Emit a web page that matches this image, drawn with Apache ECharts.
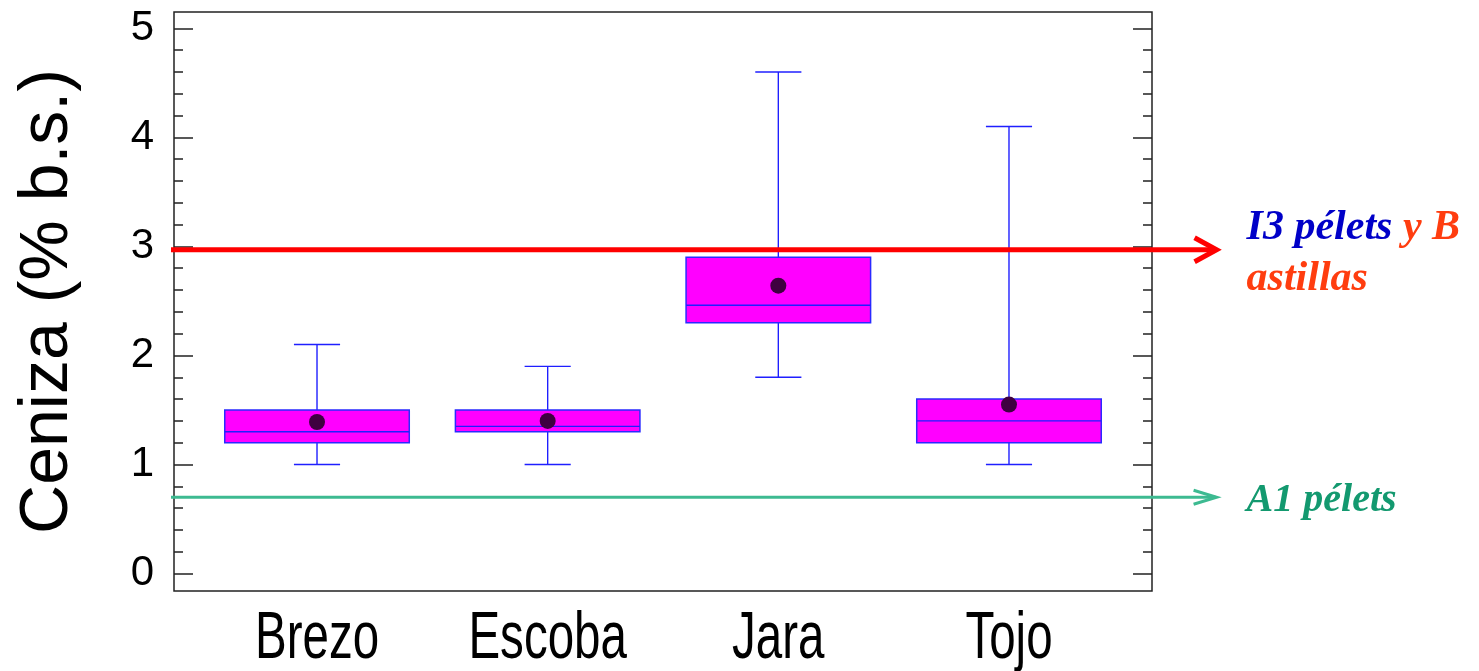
<!DOCTYPE html>
<html><head><meta charset="utf-8">
<script src="https://cdn.jsdelivr.net/npm/echarts@6/dist/echarts.min.js"></script>
<style>html,body{margin:0;padding:0;background:#fff}#c{width:1479px;height:671px}</style>
</head><body><div id="c"></div>
<script>
// ---- data ----
const categories = ['Brezo', 'Escoba', 'Jara', 'Tojo'];
const mins    = [1.0, 1.0, 1.8, 1.0];
const q1s     = [1.2, 1.3, 2.3, 1.2];
const medians = [1.3, 1.35, 2.46, 1.4];
const q3s     = [1.5, 1.5, 2.9, 1.6];
const maxs    = [2.1, 1.9, 4.6, 4.1];
const means   = [1.39, 1.40, 2.64, 1.55];
const yMajorTicks = [0, 1, 2, 3, 4, 5];
const yMinorTicks = [0.2, 0.4, 0.6, 0.8, 1.2, 1.4, 1.6, 1.8, 2.2, 2.4, 2.6, 2.8,
                     3.2, 3.4, 3.6, 3.8, 4.2, 4.4, 4.6, 4.8];
const limitValues = [2.97, 0.7];
const yTitle = 'Ceniza (% b.s.)';

// ---- styles / layout ----
const X_MIN = 0.38, X_MAX = 4.62, Y_MIN = -0.16, Y_MAX = 5.15;
const BOX_W = 0.8, CAP_W = 0.2, ARROW_END_X = 4.9;
const boxData = categories.map((c, i) => [i + 1, mins[i], q1s[i], medians[i], q3s[i], maxs[i]]);
const meanData = categories.map((c, i) => [i + 1, means[i]]);

const chart = echarts.init(document.getElementById('c'), null, {renderer: 'canvas'});

function yAx(pos, ticks, len, showLabel, extra) {
  return Object.assign({
    type: 'value', position: pos, min: Y_MIN, max: Y_MAX,
    axisLine: {show: false},
    splitLine: {show: false},
    axisTick: {show: true, inside: true, length: len, customValues: ticks,
               lineStyle: {color: '#222', width: 1.5}},
    axisLabel: showLabel ? {show: true, customValues: yMajorTicks, fontSize: 42, margin: 20,
               color: '#000', fontFamily: 'Liberation Sans, Arial, sans-serif'} : {show: false}
  }, extra || {});
}

const option = {
  animation: false,
  backgroundColor: '#fff',
  grid: {left: 174, top: 12, width: 978, height: 579, show: true,
         borderColor: '#222', borderWidth: 1.5, backgroundColor: '#fff'},
  xAxis: {
    type: 'value', min: X_MIN, max: X_MAX,
    axisLine: {show: false}, axisTick: {show: false}, splitLine: {show: false},
    axisLabel: {show: false}
  },
  yAxis: [
    yAx('left', yMajorTicks, 19, true, {
      name: yTitle, nameLocation: 'middle', nameGap: 92, nameRotate: 90,
      nameTextStyle: {fontSize: 68, color: '#000', fontFamily: 'Liberation Sans, Arial, sans-serif'}
    }),
    yAx('left', yMinorTicks, 9, false),
    yAx('right', yMajorTicks, 19, false),
    yAx('right', yMinorTicks, 9, false)
  ],
  series: [
    {
      type: 'custom',
      data: boxData,
      encode: {x: 0, y: [1, 2, 3, 4, 5]},
      z: 2,
      renderItem: function (params, api) {
        const x = api.value(0);
        const pLo = api.coord([x, api.value(1)]);
        const pQ1 = api.coord([x, api.value(2)]);
        const pMd = api.coord([x, api.value(3)]);
        const pQ3 = api.coord([x, api.value(4)]);
        const pHi = api.coord([x, api.value(5)]);
        const bw = api.size([BOX_W, 0])[0];
        const cw = api.size([CAP_W, 0])[0];
        const cx = pMd[0];
        const ws = {stroke: '#1f1fff', lineWidth: 1.4};
        return {type: 'group', children: [
          {type: 'line', shape: {x1: cx, y1: pQ3[1], x2: cx, y2: pHi[1]}, style: ws},
          {type: 'line', shape: {x1: cx, y1: pQ1[1], x2: cx, y2: pLo[1]}, style: ws},
          {type: 'line', shape: {x1: cx - cw / 2, y1: pHi[1], x2: cx + cw / 2, y2: pHi[1]}, style: ws},
          {type: 'line', shape: {x1: cx - cw / 2, y1: pLo[1], x2: cx + cw / 2, y2: pLo[1]}, style: ws},
          {type: 'rect', shape: {x: cx - bw / 2, y: pQ3[1], width: bw, height: pQ1[1] - pQ3[1]},
           style: {fill: '#ff00ff', stroke: '#2a2aff', lineWidth: 1.5}},
          {type: 'line', shape: {x1: cx - bw / 2, y1: pMd[1], x2: cx + bw / 2, y2: pMd[1]}, style: ws}
        ]};
      }
    },
    {
      type: 'scatter',
      data: meanData,
      symbol: 'circle', symbolSize: 16, z: 3,
      itemStyle: {color: '#3f0040', opacity: 1}
    }
  ]
};
chart.setOption(option);

// ---- limit lines with arrows, annotations, category labels ----
const xL = chart.convertToPixel({xAxisIndex: 0}, X_MIN) - 3;
const xR = chart.convertToPixel({xAxisIndex: 0}, ARROW_END_X);
const yRed = chart.convertToPixel({yAxisIndex: 0}, limitValues[0]);
const yGreen = chart.convertToPixel({yAxisIndex: 0}, limitValues[1]);
const yBottom = chart.convertToPixel({yAxisIndex: 0}, Y_MIN);
const serif = "'Liberation Serif', 'Times New Roman', serif";
const sans = "'Liberation Sans', Arial, sans-serif";
const redC = '#ff0000', orangeC = '#ff3d0f', blueC = '#0000c8', greenLine = '#3dba91', greenText = '#13996f';

const catLabels = categories.map((c, i) => ({
  type: 'text', z: 100,
  x: chart.convertToPixel({xAxisIndex: 0}, i + 1), y: yBottom + 49,
  scaleX: 0.72,
  style: {text: c, fill: '#000', fontFamily: sans, fontSize: 66, align: 'center', verticalAlign: 'middle'}
}));

chart.setOption({
  graphic: catLabels.concat([
    {type: 'line', z: 100, shape: {x1: xL, y1: yRed, x2: xR - 2, y2: yRed},
     style: {stroke: redC, lineWidth: 5}},
    {type: 'polyline', z: 100, shape: {points: [[xR - 22, yRed - 12], [xR, yRed], [xR - 22, yRed + 12]]},
     style: {stroke: redC, lineWidth: 5, fill: null, lineJoin: 'miter'}},
    {type: 'line', z: 100, shape: {x1: xL, y1: yGreen, x2: xR - 1, y2: yGreen},
     style: {stroke: greenLine, lineWidth: 3}},
    {type: 'polyline', z: 100, shape: {points: [[xR - 23, yGreen - 7], [xR, yGreen], [xR - 23, yGreen + 7]]},
     style: {stroke: greenLine, lineWidth: 3, fill: null}},
    {type: 'text', z: 100, x: xR + 30, y: yRed - 22,
     style: {text: '{b|I3 pélets} {r|y B}', fontFamily: serif, fontSize: 42, fontStyle: 'italic', fontWeight: 'bold',
             verticalAlign: 'middle', align: 'left',
             rich: {
               b: {fill: blueC, fontFamily: serif, fontSize: 42, fontStyle: 'italic', fontWeight: 'bold'},
               r: {fill: orangeC, fontFamily: serif, fontSize: 42, fontStyle: 'italic', fontWeight: 'bold'}
             }}},
    {type: 'text', z: 100, x: xR + 30, y: yRed + 29,
     style: {text: 'astillas', fill: orangeC, fontFamily: serif, fontSize: 42, fontStyle: 'italic', fontWeight: 'bold',
             verticalAlign: 'middle', align: 'left'}},
    {type: 'text', z: 100, x: xR + 30, y: yGreen + 3,
     style: {text: 'A1 pélets', fill: greenText, fontFamily: serif, fontSize: 40, fontStyle: 'italic', fontWeight: 'bold',
             verticalAlign: 'middle', align: 'left'}}
  ])
});
</script>
</body></html>
